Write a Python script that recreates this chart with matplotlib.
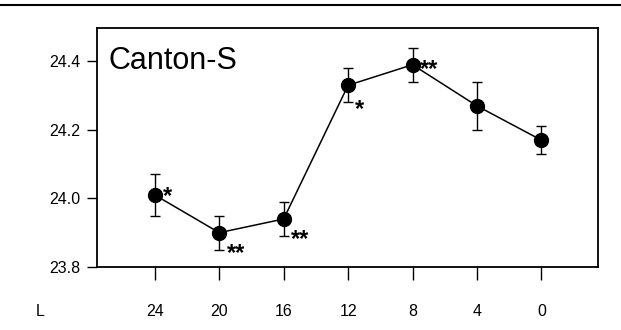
import matplotlib.pyplot as plt
import numpy as np

plt.rcParams['font.family'] = ['Liberation Sans', 'DejaVu Sans']

hours = ['24', '20', '16', '12', '8', '4', '0']
means = [24.01, 23.90, 23.94, 24.33, 24.39, 24.27, 24.17]
errs = [0.06, 0.05, 0.05, 0.05, 0.05, 0.07, 0.04]
stars = ['*', '**', '**', '*', '**', '', '']

x = np.arange(len(hours))

fig = plt.figure(figsize=(6.21, 3.3), dpi=100)
ax = fig.add_axes([0.156, 0.191, 0.807, 0.724])

ax.errorbar(x, means, yerr=errs, color='black', lw=1.1, marker='o', ms=10,
            capsize=3.5, elinewidth=1.0, capthick=1.0)

# significance stars
offs = [(0.12, 0.01), (0.12, -0.045), (0.12, -0.045), (0.1, -0.055), (0.12, 0.0), (0, 0), (0, 0)]
for i, s in enumerate(stars):
    if s:
        ax.text(x[i] + offs[i][0], means[i] + offs[i][1] - 0.015, s, fontsize=17,
                fontweight='bold', ha='left', va='center')

ax.text(-0.72, 24.40, 'Canton-S', fontsize=22, ha='left', va='center')

ax.set_xlim(-0.9, 6.88)
ax.set_ylim(23.8, 24.497)
ax.set_yticks([23.8, 24.0, 24.2, 24.4])
ax.set_yticklabels(['23.8', '24.0', '24.2', '24.4'])
ax.set_xticks(x)
ax.set_xticklabels(hours)
ax.tick_params(axis='y', length=7, width=1, labelsize=11.5, pad=5)
ax.tick_params(axis='x', length=9, width=1, labelsize=11.5, pad=18)
for sp in ax.spines.values():
    sp.set_linewidth(1.3)

fig.text(40 / 621, 1 - 311 / 330, 'L', fontsize=11.5, ha='center', va='center')
fig.add_artist(plt.Line2D([0, 1], [1 - 5 / 330, 1 - 5 / 330], color='black', lw=1.5))

fig.savefig('out.png', dpi=100)
